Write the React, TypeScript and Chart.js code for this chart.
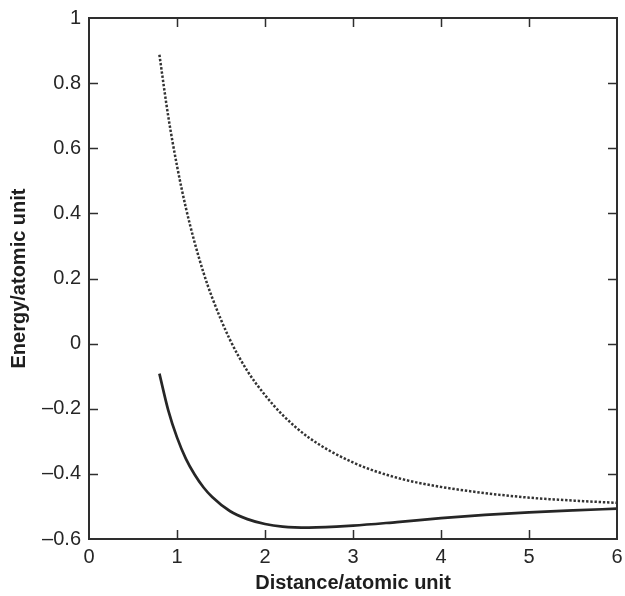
import React, { useEffect, useRef } from "react";
import { Chart, registerables } from "chart.js";

Chart.register(...registerables);

// Internuclear distance (atomic units)
const distances = [0.8, 0.9, 1.0, 1.1, 1.2, 1.3, 1.4, 1.6, 1.8, 2.0, 2.2, 2.5, 3.0, 3.5, 4.0, 4.5, 5.0, 5.5, 6.0];
// Solid curve (lower)
const lowerEnergy = [-0.092, -0.204, -0.288, -0.353, -0.402, -0.441, -0.471, -0.514, -0.539, -0.554, -0.562, -0.565, -0.559, -0.548, -0.536, -0.526, -0.518, -0.512, -0.507];
// Dotted curve (upper)
const upperEnergy = [0.887, 0.699, 0.546, 0.418, 0.311, 0.219, 0.141, 0.013, -0.084, -0.158, -0.219, -0.289, -0.365, -0.412, -0.440, -0.459, -0.473, -0.482, -0.489];

const xTickValues = [0, 1, 2, 3, 4, 5, 6];
const xTickLabels = ["0", "1", "2", "3", "4", "5", "6"];
const yTickValues = [-0.6, -0.4, -0.2, 0, 0.2, 0.4, 0.6, 0.8, 1];
const yTickLabels = ["\u20130.6", "\u20130.4", "\u20130.2", "0", "0.2", "0.4", "0.6", "0.8", "1"];

const xTitle = "Distance/atomic unit";
const yTitle = "Energy/atomic unit";

const FONT = "'Liberation Sans', Arial, Helvetica, sans-serif";
const AXIS_COLOR = "#2e2e2e";

const frameTicksPlugin = {
  id: "frameTicks",
  afterDatasetsDraw(chart: any) {
    const { ctx, chartArea, scales } = chart;
    const { left, right, top, bottom } = chartArea;
    const tickLen = 9;
    ctx.save();
    ctx.strokeStyle = AXIS_COLOR;
    ctx.lineWidth = 1.5;
    ctx.beginPath();
    xTickValues.forEach((v, i) => {
      if (i === 0 || i === xTickValues.length - 1) return;
      const px = Math.round(scales.x.getPixelForValue(v)) + 0.5;
      ctx.moveTo(px, bottom);
      ctx.lineTo(px, bottom - tickLen);
      ctx.moveTo(px, top);
      ctx.lineTo(px, top + tickLen);
    });
    yTickValues.forEach((v, i) => {
      if (i === 0 || i === yTickValues.length - 1) return;
      const py = Math.round(scales.y.getPixelForValue(v)) + 0.5;
      ctx.moveTo(left, py);
      ctx.lineTo(left + tickLen, py);
      ctx.moveTo(right, py);
      ctx.lineTo(right - tickLen, py);
    });
    ctx.stroke();
    ctx.lineWidth = 2;
    ctx.strokeRect(left, top, right - left, bottom - top);
    ctx.restore();
  },
};

export default function App() {
  const canvasRef = useRef<HTMLCanvasElement | null>(null);

  useEffect(() => {
    if (!canvasRef.current) return;
    const chart = new Chart(canvasRef.current, {
      type: "line",
      data: {
        datasets: [
          {
            label: "upper",
            data: distances.map((d, i) => ({ x: d, y: upperEnergy[i] })),
            borderColor: "#333333",
            borderWidth: 2.5,
            borderDash: [2.4, 1.8],
            pointRadius: 0,
            fill: false,
            cubicInterpolationMode: "monotone",
          },
          {
            label: "lower",
            data: distances.map((d, i) => ({ x: d, y: lowerEnergy[i] })),
            borderColor: "#262626",
            borderWidth: 2.7,
            pointRadius: 0,
            fill: false,
            cubicInterpolationMode: "monotone",
          },
        ],
      },
      options: {
        responsive: false,
        animation: false,
        layout: { padding: { left: 0, right: 8, top: 18, bottom: 0 } },
        plugins: { legend: { display: false }, tooltip: { enabled: false } },
        scales: {
          x: {
            type: "linear",
            min: 0,
            max: 6,
            grid: { display: false, drawTicks: false },
            border: { display: false },
            afterBuildTicks: (scale: any) => {
              scale.ticks = xTickValues.map((v) => ({ value: v }));
            },
            afterFit: (scale: any) => {
              scale.height = 57;
              scale.paddingLeft = 0;
              scale.paddingRight = 0;
            },
            ticks: {
              padding: 6,
              color: "#262626",
              font: { family: FONT, size: 20 },
              maxRotation: 0,
              callback: (v: any) => {
                const i = xTickValues.indexOf(Number(v));
                return i >= 0 ? xTickLabels[i] : "";
              },
            },
            title: {
              display: true,
              text: xTitle,
              color: "#1e1e1e",
              font: { family: FONT, size: 20, weight: "bold" },
              padding: { top: 0, bottom: 1 },
            },
          },
          y: {
            type: "linear",
            min: -0.6,
            max: 1,
            grid: { display: false, drawTicks: false },
            border: { display: false },
            afterBuildTicks: (scale: any) => {
              scale.ticks = yTickValues.map((v) => ({ value: v }));
            },
            afterFit: (scale: any) => {
              scale.width = 89;
              scale.paddingTop = 0;
              scale.paddingBottom = 0;
            },
            ticks: {
              padding: 8,
              color: "#262626",
              font: { family: FONT, size: 20 },
              callback: (v: any) => {
                const i = yTickValues.findIndex((t) => Math.abs(t - Number(v)) < 1e-6);
                return i >= 0 ? yTickLabels[i] : "";
              },
            },
            title: {
              display: true,
              text: yTitle,
              color: "#1e1e1e",
              font: { family: FONT, size: 20, weight: "bold" },
              padding: { top: 7, bottom: 0 },
            },
          },
        },
      },
      plugins: [frameTicksPlugin],
    } as any);
    return () => chart.destroy();
  }, []);

  return (
    <div style={{ position: "fixed", left: 0, top: 0, width: 625, height: 596, background: "#fff" }}>
      <canvas ref={canvasRef} width={625} height={596} style={{ display: "block" }} />
    </div>
  );
}
